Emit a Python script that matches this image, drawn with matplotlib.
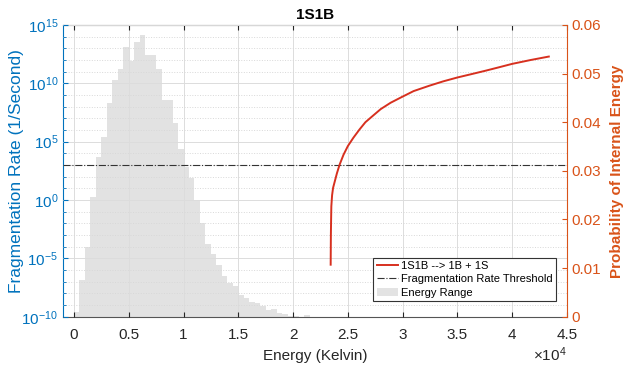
import matplotlib
matplotlib.use("Agg")
import matplotlib.pyplot as plt
import numpy as np
from matplotlib.ticker import FixedLocator, FuncFormatter, NullFormatter
from matplotlib.lines import Line2D
from matplotlib.patches import Patch

plt.rcParams['font.family'] = ['Liberation Sans', 'DejaVu Sans']
plt.rcParams['mathtext.fontset'] = 'custom'
plt.rcParams['mathtext.rm'] = 'Liberation Sans'
plt.rcParams['mathtext.it'] = 'Liberation Sans'

# histogram of energy (bin width 500 K), heights read as log10 values
bin_width = 500
bin_left = np.arange(0, 21500, 500)
hist_log10 = [-9.6, -6.85, -4.0, 0.3, 3.7, 5.4, 8.3, 10.3, 11.2, 13.1,
              11.9, 13.5, 14.15, 12.4, 12.4, 11.25, 8.6, 8.6, 6.6, 4.4,
              2.8, 1.9, 0.0, -2.0, -3.8, -4.6, -5.55, -6.5, -7.1, -7.4,
              -8.1, -8.4, -8.7, -8.85, -9.1, -9.45, -9.3, -9.65, -9.8, -9.9,
              -9.95, -11.0, -9.85]

# fragmentation threshold
threshold = 1e3

# red curve 1S1B --> 1B + 1S (right axis)
curve_x = [23430, 23440, 23450, 23470, 23490, 23560, 23650, 23790, 24000,
           24250, 24600, 25000, 25500, 26060, 26600, 27270, 28000, 28900,
           29850, 31000, 32430, 33700, 35000, 36300, 37580, 38800, 40000,
           41700, 43340]
curve_y = [0.0107, 0.0140, 0.0170, 0.0200, 0.0227, 0.0250, 0.0265, 0.0277,
           0.0295, 0.0313, 0.0333, 0.0351, 0.0368, 0.0385, 0.0400, 0.0413,
           0.0427, 0.0440, 0.0451, 0.0464, 0.0475, 0.0484, 0.0492, 0.0499,
           0.0506, 0.0513, 0.0520, 0.0528, 0.0535]

blue = '#0072BD'
orange = '#D95319'
red = '#D7301F'

fig = plt.figure(figsize=(6.27, 3.67), dpi=100)
ax = fig.add_axes([0.1005, 0.137, 0.8038, 0.795])

heights = 10.0 ** np.array(hist_log10)
ax.bar(bin_left, heights - 1e-10, width=bin_width, bottom=1e-10, align='edge',
       color='#d0d0d0', alpha=0.6, linewidth=0, zorder=2)
ax.axhline(threshold, color='#333333', linestyle='-.', linewidth=0.8, zorder=3)

ax.set_yscale('log')
ax.set_ylim(1e-10, 1e15)
ax.set_xlim(-1000, 45000)
ax.yaxis.set_major_locator(FixedLocator([1e-10, 1e-5, 1e0, 1e5, 1e10, 1e15]))
ax.yaxis.set_minor_locator(FixedLocator([10.0 ** k for k in range(-10, 16)]))
ax.yaxis.set_minor_formatter(NullFormatter())
ax.set_xticks(np.arange(0, 45001, 5000))
ax.xaxis.set_major_formatter(FuncFormatter(lambda v, p: '%g' % (v / 1e4)))

ax.grid(True, which='major', color='#dcdcdc', linewidth=0.7, zorder=0)
ax.grid(True, which='minor', axis='y', color='#d8d8d8', linestyle=':',
        linewidth=0.7, zorder=0)
ax.set_axisbelow(False)

ax.tick_params(axis='both', which='both', direction='in', top=True,
               labelsize=11, colors='#262626')
ax.tick_params(axis='x', pad=8)
ax.tick_params(axis='y', which='both', colors=blue, labelcolor=blue)
ax.tick_params(axis='y', which='minor', length=2)
ax.spines['left'].set_color(blue)
ax.spines['top'].set_color('#555555')
ax.spines['bottom'].set_color('#555555')
ax.spines['right'].set_visible(False)

ax.set_xlabel('Energy (Kelvin)', fontsize=11, color='#262626', labelpad=5)
ax.set_ylabel('Fragmentation Rate (1/Second)', fontsize=12.5, color=blue)
ax.yaxis.set_label_coords(-0.077, 0.5)
ax.set_title('1S1B', fontsize=11, fontweight='bold', pad=4)
ax.text(1.0, -0.10, r'$\times10^4$', transform=ax.transAxes, ha='right',
        va='top', fontsize=11, color='#262626')

ax2 = ax.twinx()
ax2.plot(curve_x, curve_y, color=red, linewidth=1.4, zorder=4)
ax2.set_ylim(0, 0.06)
ax2.set_yticks(np.arange(0, 0.061, 0.01))
ax2.yaxis.set_major_formatter(FuncFormatter(lambda v, p: '%g' % round(v, 2)))
ax2.tick_params(axis='y', direction='in', colors=orange, labelcolor=orange,
                labelsize=11)
ax2.spines['right'].set_color(orange)
for s in ['left', 'top', 'bottom']:
    ax2.spines[s].set_visible(False)
ax2.set_ylabel('Probability of Internal Energy', fontsize=11, color=orange,
               fontweight='bold', labelpad=6)

handles = [Line2D([], [], color=red, linewidth=1.4),
           Line2D([], [], color='#333333', linestyle='-.', linewidth=0.8),
           Patch(facecolor='#e3e3e3', edgecolor='none')]
labels = ['1S1B --> 1B + 1S', 'Fragmentation Rate Threshold', 'Energy Range']
leg = ax2.legend(handles, labels, loc='lower right', bbox_to_anchor=(0.978, 0.054),
                 fontsize=8, frameon=True, fancybox=False, framealpha=1,
                 edgecolor='#333333', borderpad=0.3, labelspacing=0.3,
                 handlelength=1.9, handletextpad=0.3, borderaxespad=0)
leg.get_frame().set_linewidth(0.8)

fig.savefig('out.png', dpi=100)
